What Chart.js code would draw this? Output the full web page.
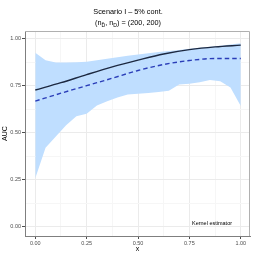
<!DOCTYPE html>
<html>
<head>
<meta charset="utf-8">
<script src="https://cdn.jsdelivr.net/npm/chart.js@4.4.0/dist/chart.umd.min.js"></script>
<style>
  html, body { margin: 0; padding: 0; background: #fff; }
  #wrap { width: 254px; height: 254px; }
</style>
</head>
<body>
<div id="wrap"><canvas id="myChart" width="254" height="254"></canvas></div>
<script>
// band (pointwise interval)
const bandX = [0, 0.05, 0.1, 0.15, 0.2, 0.25, 0.3, 0.35, 0.4, 0.45, 0.5,
               0.55, 0.6, 0.65, 0.7, 0.75, 0.8, 0.85, 0.9, 0.95, 1];
const bandUpper = [0.927, 0.886, 0.875, 0.874, 0.876, 0.879, 0.887, 0.895, 0.902, 0.910, 0.917,
                   0.924, 0.931, 0.936, 0.941, 0.948, 0.953, 0.958, 0.964, 0.970, 0.977];
const bandLower = [0.258, 0.420, 0.480, 0.540, 0.588, 0.602, 0.646, 0.668, 0.688, 0.704, 0.708,
                   0.712, 0.717, 0.724, 0.757, 0.762, 0.770, 0.782, 0.775, 0.742, 0.643];

// curves
const curveX = [0, 0.125, 0.25, 0.375, 0.5, 0.625, 0.75, 0.875, 1];
const trueAUC = [0.728, 0.767, 0.810, 0.851, 0.887, 0.920, 0.943, 0.958, 0.967];
const kernelAUC = [0.669, 0.711, 0.751, 0.791, 0.832, 0.864, 0.885, 0.896, 0.896];

// ticks
const majorTicks = [0, 0.25, 0.5, 0.75, 1];
const majorLabels = ['0.00', '0.25', '0.50', '0.75', '1.00'];
const minorTicks = [0.125, 0.375, 0.625, 0.875];

const titleText = 'Scenario I \u2013 5% cont.';
const noteText = 'Kernel estimator';

Chart.defaults.font.family = '"Liberation Sans", Arial, sans-serif';

function toPoints(xs, ys) {
    return xs.map((x, i) => ({ x: x, y: ys[i] }));
}

function isMajor(v) {
    return majorTicks.some(m => Math.abs(m - v) < 1e-6);
}

function tickLabel(v) {
    const i = majorTicks.findIndex(m => Math.abs(m - v) < 1e-6);
    return i >= 0 ? majorLabels[i] : '';
}

function setTicks(scale) {
    scale.ticks = majorTicks.concat(minorTicks).sort((a, b) => a - b).map(v => ({ value: v }));
}

const gridOpts = {
    color: ctx => (ctx.tick && isMajor(ctx.tick.value)) ? '#ebebeb' : '#f6f6f6',
    tickColor: ctx => (ctx.tick && isMajor(ctx.tick.value)) ? '#4d4d4d' : 'rgba(0,0,0,0)',
    tickLength: 3,
    lineWidth: 1
};

// title with subscripts, frame and note text
const decorations = {
    id: 'decorations',
    afterDatasetsDraw(chart) {
        const c = chart.ctx;
        const a = chart.chartArea;
        c.save();
        // panel frame right/top
        c.strokeStyle = '#b0b0b0';
        c.lineWidth = 1;
        c.beginPath();
        c.moveTo(a.left, a.top + 0.5);
        c.lineTo(a.right - 0.5, a.top + 0.5);
        c.lineTo(a.right - 0.5, a.bottom);
        c.stroke();

        // note
        c.fillStyle = '#000';
        c.font = '5.5px "Liberation Sans", Arial, sans-serif';
        c.textAlign = 'center';
        c.textBaseline = 'middle';
        c.fillText(noteText, a.right - 38, a.bottom - 13);
        c.restore();
    },
    afterDraw(chart) {
        const c = chart.ctx;
        const cx = 128;
        c.save();
        c.fillStyle = '#000';
        c.textBaseline = 'alphabetic';
        c.textAlign = 'left';
        const big = '7.3px "Liberation Sans", Arial, sans-serif';
        const small = '5.2px "Liberation Sans", Arial, sans-serif';
        c.font = big;
        const w1 = c.measureText(titleText).width;
        c.fillText(titleText, cx - w1 / 2, 14);

        // (n_Dbar, n_D) = (200, 200)
        const parts = [
            ['(n', big, 0], ['D\u0304', small, 1.8], [', n', big, 0], ['D', small, 1.8], [') = (200, 200)', big, 0]
        ];
        let total = 0;
        parts.forEach(p => { c.font = p[1]; total += c.measureText(p[0]).width; });
        let x = cx - total / 2;
        parts.forEach(p => {
            c.font = p[1];
            c.fillText(p[0], x, 25 + p[2]);
            x += c.measureText(p[0]).width;
        });
        c.restore();
    }
};

const ctx = document.getElementById('myChart').getContext('2d');
const myChart = new Chart(ctx, {
    type: 'line',
    data: {
        datasets: [
            {
                label: 'true',
                data: toPoints(curveX, trueAUC),
                borderColor: '#1c2840',
                borderWidth: 1.4,
                pointRadius: 0,
                cubicInterpolationMode: 'monotone',
                fill: false,
                order: 0
            },
            {
                label: 'kernel',
                data: toPoints(curveX, kernelAUC),
                borderColor: '#2a3db8',
                borderWidth: 1.4,
                borderDash: [4.5, 3],
                pointRadius: 0,
                cubicInterpolationMode: 'monotone',
                fill: false,
                order: 1
            },
            {
                label: 'upper',
                data: toPoints(bandX, bandUpper),
                borderWidth: 0,
                borderColor: 'rgba(0,0,0,0)',
                backgroundColor: '#bfdeff',
                pointRadius: 0,
                fill: 3,
                order: 2
            },
            {
                label: 'lower',
                data: toPoints(bandX, bandLower),
                borderWidth: 0,
                borderColor: 'rgba(0,0,0,0)',
                pointRadius: 0,
                fill: false,
                order: 3
            }
        ]
    },
    options: {
        responsive: false,
        animation: false,
        devicePixelRatio: 1,
        layout: { padding: { top: 31, right: 4, bottom: 0, left: 0 } },
        plugins: {
            legend: { display: false },
            tooltip: { enabled: false }
        },
        scales: {
            x: {
                type: 'linear',
                min: -0.05,
                max: 1.045,
                afterBuildTicks: setTicks,
                afterFit: s => { s.height = 18; },
                ticks: {
                    callback: v => tickLabel(v),
                    font: { size: 5.5 },
                    color: '#4d4d4d',
                    padding: 1,
                    autoSkip: false,
                    maxRotation: 0
                },
                grid: gridOpts,
                border: { color: '#7f7f7f', width: 1 },
                title: { display: true, text: 'x', font: { size: 7 }, color: '#000', padding: { top: 0, bottom: 1 } }
            },
            y: {
                type: 'linear',
                min: -0.05,
                max: 1.0425,
                afterBuildTicks: setTicks,
                afterFit: s => { s.width = 25; },
                ticks: {
                    callback: v => tickLabel(v),
                    font: { size: 5.5 },
                    color: '#4d4d4d',
                    padding: 1,
                    autoSkip: false
                },
                grid: gridOpts,
                border: { color: '#7f7f7f', width: 1 },
                title: { display: true, text: 'AUC', font: { size: 7 }, color: '#000', padding: { top: 1, bottom: 0 } }
            }
        }
    },
    plugins: [decorations]
});
</script>
</body>
</html>
